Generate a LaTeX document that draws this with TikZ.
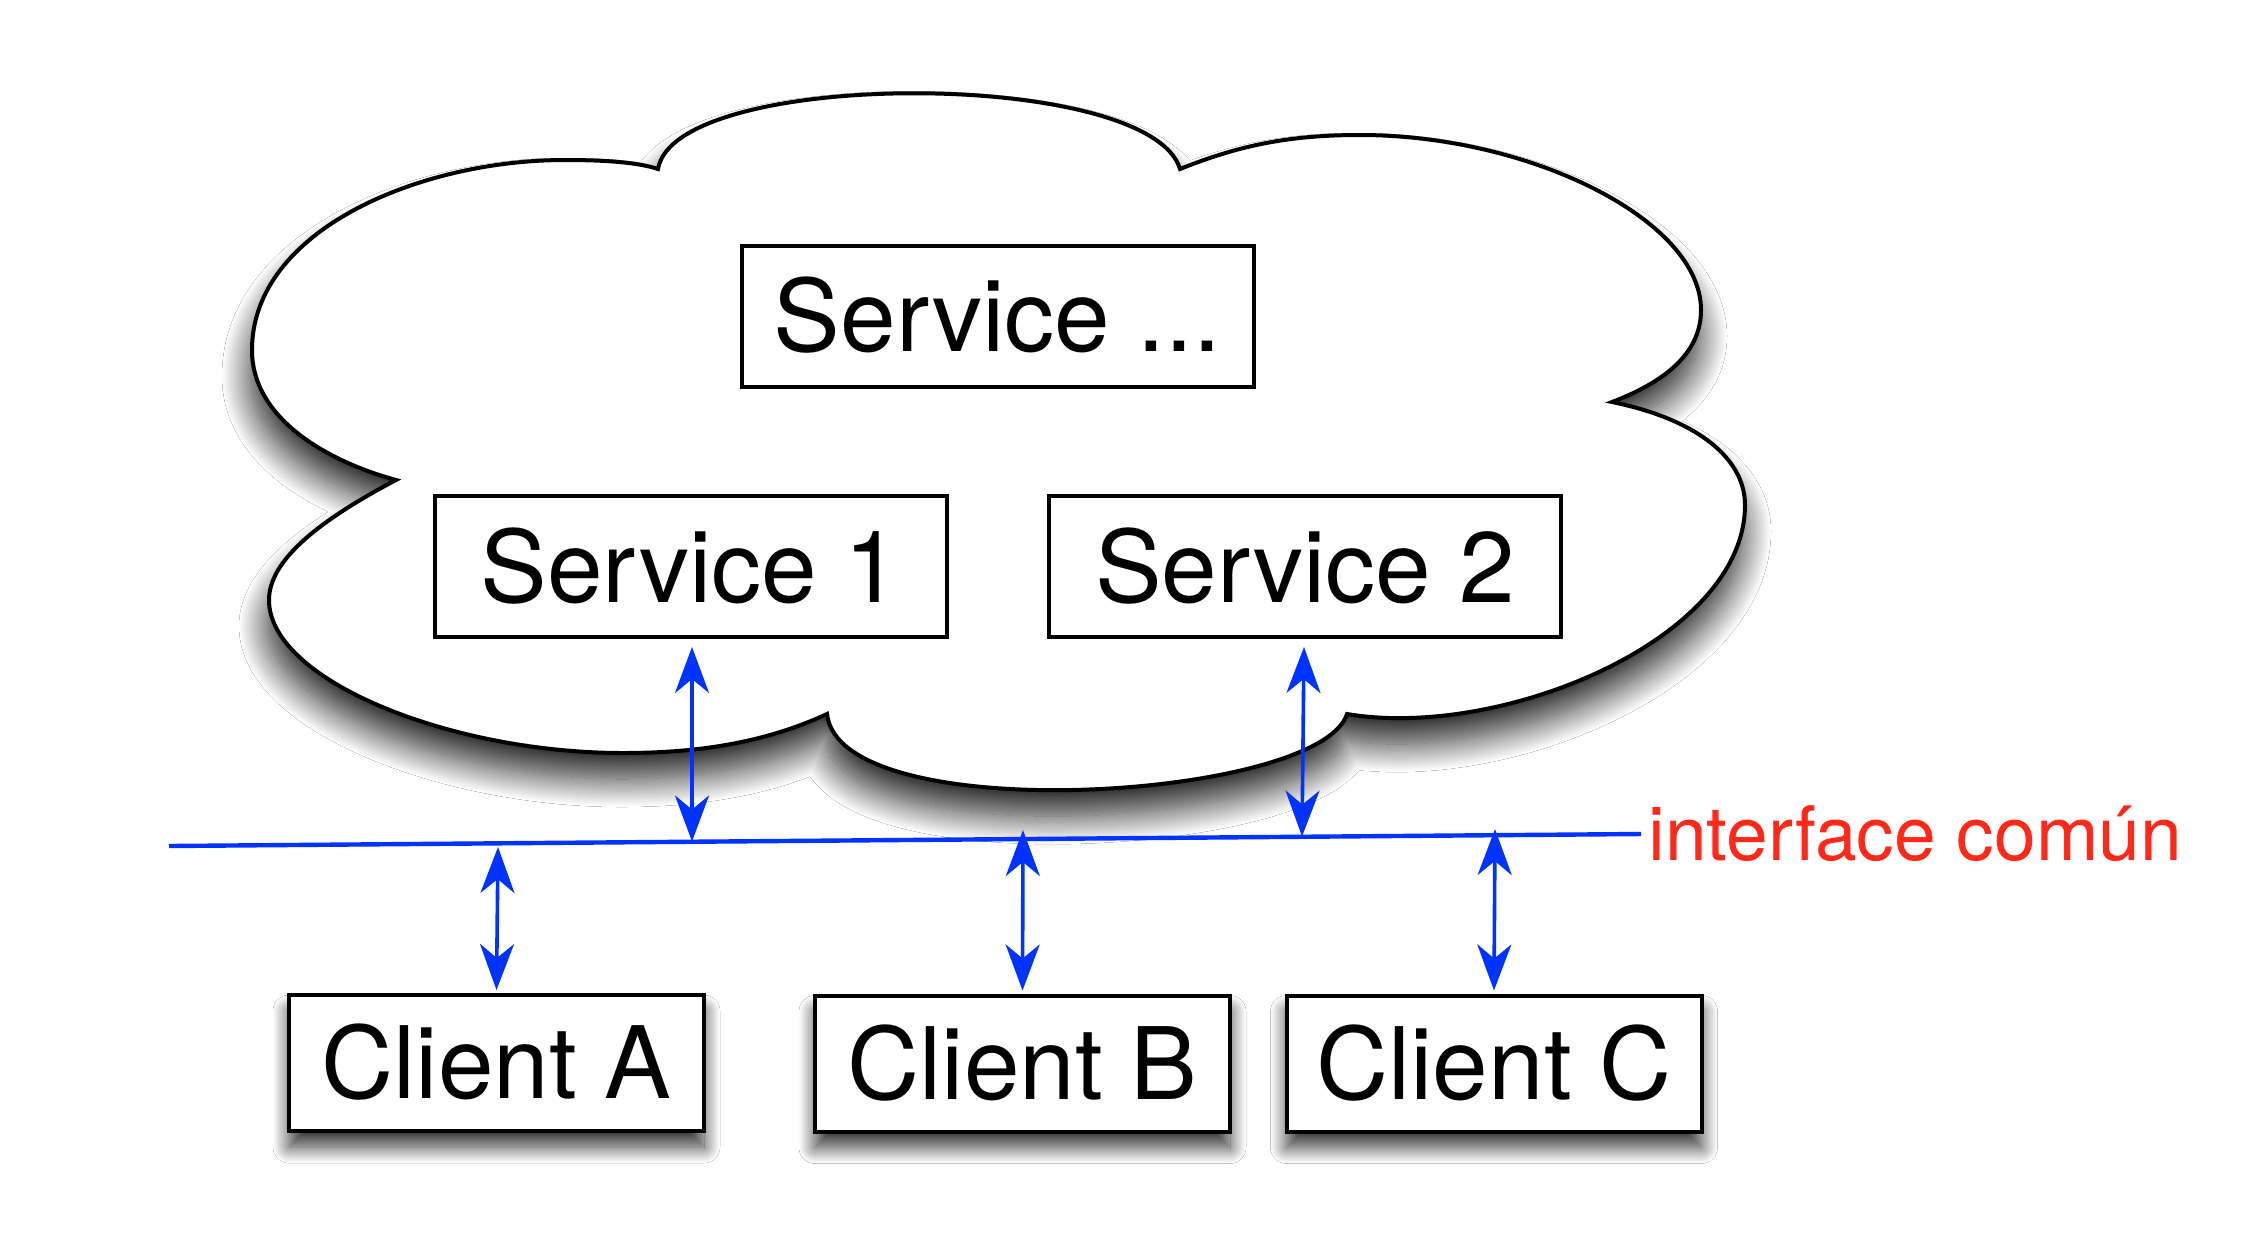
\documentclass[tikz,border=0pt]{standalone}
\usepackage{fontspec}
\setmainfont{TeX Gyre Heros}
\usetikzlibrary{arrows.meta,shadows.blur}
\definecolor{ifblue}{RGB}{0,51,255}
\definecolor{ifred}{RGB}{255,40,25}
\begin{document}
\begin{tikzpicture}[x=0.5pt,y=-0.5pt,
  box/.style={draw=black, line width=2pt, fill=white, inner sep=0pt,
    text height=35.9pt, text depth=0pt, font=\fontsize{50}{60}\selectfont},
  svcbox/.style={box, minimum width=256pt, minimum height=70.5pt},
  clibox/.style={box, minimum width=207.5pt, minimum height=68pt,
    blur shadow={shadow xshift=0pt, shadow yshift=-8pt, shadow blur radius=8pt,
      shadow blur steps=25, shadow opacity=80}},
  biarrow/.style={ifblue, line width=1.8pt,
    {Stealth[length=23pt,width=17pt,inset=7pt]}-{Stealth[length=23pt,width=17pt,inset=7pt]}},
  ifline/.style={ifblue, line width=2.2pt},
  cloudshape/.style={draw=black, line width=2pt, fill=white,
    blur shadow={shadow xshift=-1pt, shadow yshift=-13pt, shadow blur radius=14pt,
      shadow blur steps=30, shadow opacity=85}},
]
\useasboundingbox (0,0) rectangle (2249,1254);
\fill[white] (0,0) rectangle (2249,1254);

% cloud
\path[cloudshape]
 (658,169) .. controls (675,68) and (1150,68) .. (1180,169)
 .. controls (1240,145) and (1290,135) .. (1360,135)
 .. controls (1530,135) and (1701,220) .. (1701,310)
 .. controls (1701,350) and (1670,380) .. (1612,402)
 .. controls (1700,420) and (1745,460) .. (1745,505)
 .. controls (1745,640) and (1500,740) .. (1347,714)
 .. controls (1320,800) and (840,830) .. (827,714)
 .. controls (760,745) and (690,753) .. (623,753)
 .. controls (450,753) and (269,680) .. (269,600)
 .. controls (269,560) and (320,520) .. (396,480)
 .. controls (330,462) and (252,420) .. (252,350)
 .. controls (252,230) and (420,160) .. (565,160)
 .. controls (610,160) and (640,163) .. (658,169) -- cycle;

% services
\node[svcbox] (sd) at (997.5,316) {Service ...};
\node[svcbox] (s1) at (690.5,566.5) {Service 1};
\node[svcbox] (s2) at (1305,566.5) {Service 2};

% interface line
\coordinate (ifL) at (169,846);
\coordinate (ifR) at (1641,834);
\draw[ifline] (ifL) -- (ifR);
\coordinate (i1) at (692,841.5);
\coordinate (i2) at (1302,836.5);
\coordinate (iA) at (498,847);
\coordinate (iB) at (1023,830);
\coordinate (iC) at (1495,829);

% clients
\node[clibox] (ca) at (496.5,1063) {Client A};
\node[clibox] (cb) at (1022.5,1063.5) {Client B};
\node[clibox] (cc) at (1494,1063.5) {Client C};

% arrows
\draw[biarrow] ([xshift=0.75pt,yshift=-4pt]s1.south) -- (i1);
\draw[biarrow] ([xshift=-0.5pt,yshift=-4pt]s2.south) -- (i2);
\draw[biarrow] (iA) -- ([yshift=1.5pt]ca.north);
\draw[biarrow] (iB) -- ([yshift=1.5pt]cb.north);
\draw[biarrow] (iC) -- ([yshift=1.5pt]cc.north);

% label
\node[anchor=base west, inner sep=0pt, text=ifred, font=\fontsize{37.5}{45}\selectfont] (lbl) at (1648,860) {interface común};
\end{tikzpicture}
\end{document}
